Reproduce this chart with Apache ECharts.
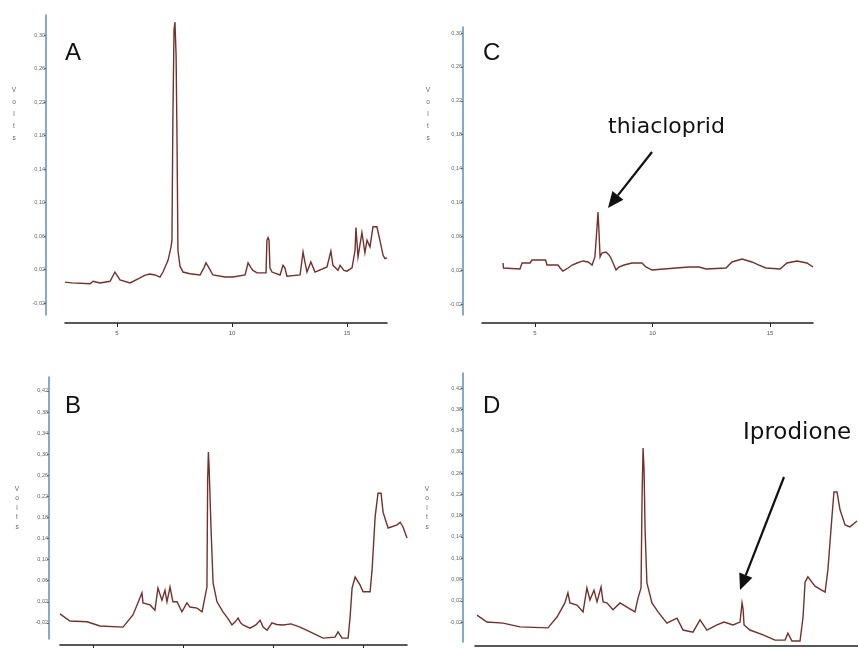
<!DOCTYPE html>
<html>
<head>
<meta charset="utf-8">
<script src="https://cdn.jsdelivr.net/npm/echarts@6.0.0/dist/echarts.min.js"></script>
<style>html,body{margin:0;padding:0;background:#fff}#c{width:858px;height:648px}</style>
</head>
<body>
<div id="c"></div>
<script>
// ---- Data (retention time in min, detector signal in volts) ----
const timeA = [2.74,3.04,3.83,3.96,4.26,4.70,4.91,5.13,5.57,6.00,6.20,6.43,6.65,6.87,7.00,7.22,7.35,7.39,7.43,7.48,7.52,7.57,7.61,7.65,7.74,7.87,8.17,8.61,8.78,8.87,9.00,9.17,9.70,10.04,10.57,10.70,10.83,10.91,11.09,11.48,11.52,11.57,11.61,11.65,11.74,12.09,12.22,12.30,12.39,12.96,13.09,13.17,13.26,13.43,13.61,14.13,14.30,14.39,14.61,14.70,14.87,15.00,15.22,15.35,15.39,15.48,15.65,15.78,15.87,16.00,16.13,16.30,16.43,16.57,16.65,16.74];
const voltA = [0.005,0.004,0.003,0.006,0.004,0.006,0.017,0.0075,0.004,0.010,0.013,0.0146,0.0135,0.011,0.017,0.031,0.047,0.055,0.199,0.306,0.3155,0.276,0.175,0.043,0.024,0.017,0.015,0.0135,0.022,0.028,0.022,0.0135,0.011,0.011,0.0135,0.028,0.022,0.019,0.016,0.016,0.055,0.058,0.055,0.022,0.017,0.0135,0.025,0.022,0.012,0.0135,0.041,0.029,0.017,0.029,0.017,0.023,0.042,0.025,0.019,0.025,0.019,0.018,0.022,0.043,0.070,0.035,0.064,0.040,0.055,0.047,0.071,0.071,0.055,0.037,0.033,0.034];

const timeC = [3.64,3.66,4.36,4.45,4.79,4.87,5.45,5.51,5.98,6.07,6.19,6.41,6.58,6.79,7.04,7.26,7.43,7.55,7.64,7.68,7.72,7.77,7.85,8.02,8.15,8.23,8.36,8.45,8.57,8.79,9.13,9.55,9.72,9.98,11.00,11.55,11.98,12.28,13.13,13.38,13.81,14.23,14.53,14.83,15.43,15.72,16.15,16.57,16.83];
const voltC = [0.0285,0.0226,0.0214,0.0285,0.0285,0.032,0.032,0.0261,0.0261,0.0226,0.019,0.0226,0.0261,0.0285,0.0309,0.0297,0.0261,0.0356,0.071,0.0887,0.0675,0.0356,0.0403,0.0415,0.0380,0.0344,0.0261,0.0202,0.0238,0.0261,0.0285,0.0285,0.0238,0.0202,0.0226,0.0238,0.0238,0.0214,0.0226,0.0297,0.0332,0.0297,0.0261,0.0226,0.0214,0.0285,0.0309,0.0285,0.0238];

const timeB = [3.17,3.72,4.67,5.39,6.67,7.22,7.50,7.72,7.78,8.17,8.44,8.61,8.83,9.00,9.11,9.28,9.44,9.67,9.94,10.22,10.39,10.78,11.06,11.22,11.33,11.37,11.41,11.45,11.56,11.67,11.89,12.22,12.50,12.72,12.90,13.06,13.20,13.33,13.72,14.05,14.28,14.45,14.67,14.94,15.20,15.56,16.00,16.50,17.06,17.78,18.44,18.61,18.83,19.17,19.28,19.39,19.56,19.83,20.00,20.39,20.50,20.67,20.83,21.00,21.11,21.39,21.89,22.06,22.22,22.44];
const voltB = [-0.003,-0.0165,-0.018,-0.026,-0.028,-0.005,0.018,0.037,0.018,0.014,0.004,0.046,0.023,0.042,0.020,0.048,0.020,0.020,0.001,0.018,0.010,0.008,0.001,0.029,0.048,0.251,0.304,0.276,0.156,0.056,0.020,0.001,-0.012,-0.024,-0.018,-0.011,-0.020,-0.024,-0.030,-0.024,-0.015,-0.028,-0.034,-0.020,-0.023,-0.024,-0.022,-0.028,-0.037,-0.049,-0.047,-0.037,-0.049,-0.049,-0.009,0.046,0.067,0.052,0.039,0.039,0.080,0.181,0.226,0.226,0.190,0.160,0.166,0.171,0.162,0.141];

const timeD = [3.17,3.66,4.46,5.30,6.68,7.13,7.52,7.67,7.77,8.12,8.42,8.61,8.76,8.96,9.11,9.31,9.41,9.60,9.90,10.25,10.59,10.99,11.14,11.29,11.34,11.39,11.44,11.49,11.58,11.83,12.13,12.57,13.07,13.37,13.86,14.21,14.55,15.05,15.40,15.84,16.19,16.25,16.29,16.34,16.39,16.68,17.33,17.92,18.42,18.56,18.76,19.16,19.31,19.41,19.55,19.90,20.40,20.54,20.74,20.84,20.99,21.14,21.39,21.63,21.98];
const voltD = [-0.007,-0.020,-0.022,-0.029,-0.031,-0.0105,0.016,0.035,0.016,0.012,-0.001,0.044,0.0215,0.040,0.018,0.046,0.018,0.016,0.003,0.016,0.008,-0.001,0.025,0.044,0.215,0.307,0.266,0.153,0.0535,0.016,-0.001,-0.022,-0.0125,-0.035,-0.039,-0.016,-0.035,-0.0255,-0.020,-0.0255,-0.020,-0.020,0.016,0.005,-0.0255,-0.035,-0.044,-0.054,-0.054,-0.041,-0.0556,-0.0556,-0.0105,0.055,0.065,0.0475,0.0365,0.078,0.1775,0.2245,0.2245,0.191,0.1625,0.159,0.170];

const yTicksTop = [-0.02,0.02,0.06,0.10,0.14,0.18,0.22,0.26,0.30];
const yTicksBottom = [-0.02,0.02,0.06,0.10,0.14,0.18,0.22,0.26,0.30,0.34,0.38,0.42];
const xTicksTop = [5,10,15];
const xTicksB = [5,10,15,20];
const panelLetters = ['A','C','B','D'];
const yAxisName = 'Volts';
const labelThia = 'thiacloprid';
const labelIpro = 'Iprodione';

// ---- Chart ----
const zip = (t, v) => t.map((x, i) => [x, v[i]]);
const fmt = v => (Math.round(v * 100) / 100).toFixed(2).replace('.', ',');
const traceColor = '#74302a';
const blue = '#5a8ec4';

const grids = [
  {left: 65, top: 15, width: 322, height: 300},
  {left: 482, top: 27, width: 331, height: 288},
  {left: 60, top: 377, width: 347, height: 262},
  {left: 475, top: 373, width: 383, height: 269}
].map(g => Object.assign({containLabel: false, outerBoundsMode: 'none'}, g));

function yAx(idx, min, max, ticks, offset) {
  return {
    type: 'value', gridIndex: idx, min: min, max: max, offset: offset,
    splitLine: {show: false},
    axisLine: {show: true, onZero: false, lineStyle: {color: blue, width: 1.5}},
    axisTick: {show: true, length: 2, customValues: ticks, lineStyle: {color: '#666'}},
    axisLabel: {customValues: ticks, formatter: fmt, fontSize: 5.5, color: '#666', margin: 1, fontFamily: 'Liberation Sans'}
  };
}
function xAx(idx, min, max, ticks, offset, showLabels) {
  return {
    type: 'value', gridIndex: idx, min: min, max: max, offset: offset,
    splitLine: {show: false},
    axisLine: {show: true, onZero: false, lineStyle: {color: '#222', width: 1.6}},
    axisTick: {show: ticks.length > 0, length: 4, customValues: ticks, lineStyle: {color: '#222'}},
    axisLabel: {show: showLabels, customValues: ticks, fontSize: 6, color: '#555', margin: 7, fontFamily: 'Liberation Sans'}
  };
}

const yAxes = [
  yAx(0, -0.0343, 0.3239, yTicksTop, 19),
  yAx(1, -0.0329, 0.3071, yTicksTop, 19),
  yAx(2, -0.0506, 0.4465, yTicksBottom, 11),
  yAx(3, -0.0575, 0.4482, yTicksBottom, 12)
];
const xAxes = [
  xAx(0, 2.74, 16.74, xTicksTop, 8, true),
  xAx(1, 2.745, 16.83, xTicksTop, 8, true),
  xAx(2, 3.17, 22.44, xTicksB, 6, false),
  xAx(3, 3.07, 22.03, [], 4, false)
];

const traces = [zip(timeA, voltA), zip(timeC, voltC), zip(timeB, voltB), zip(timeD, voltD)];
const series = traces.map((d, i) => ({
  type: 'line', xAxisIndex: i, yAxisIndex: i, data: d,
  showSymbol: false, symbol: 'none', animation: false,
  lineStyle: {color: traceColor, width: 1.4, join: 'miter'}
}));

const letterPos = [[65, 41], [483, 41], [65, 394], [483, 394]];
const voltsPos = [[14, 84, 12], [428, 84, 12], [17, 484, 9.5], [427, 484, 9.5]];

const graphic = [];
panelLetters.forEach((L, i) => {
  graphic.push({type: 'text', left: letterPos[i][0], top: letterPos[i][1],
    style: {text: L, fontSize: 24, fontFamily: 'Liberation Sans', fill: '#111'}});
});
voltsPos.forEach(p => {
  graphic.push({type: 'text', x: p[0], y: p[1],
    style: {text: yAxisName.split('').join('\n'), fontSize: 6.5, lineHeight: p[2], fontFamily: 'Liberation Sans', fill: '#666', align: 'center'}});
});
graphic.push({type: 'text', x: 608, y: 138, style: {text: labelThia, fontSize: 22, fontFamily: 'DejaVu Sans', fill: '#111', verticalAlign: 'bottom'}});
graphic.push({type: 'text', x: 743, y: 445, style: {text: labelIpro, fontSize: 23, fontFamily: 'DejaVu Sans', fill: '#111', verticalAlign: 'bottom'}});

function arrow(x0, y0, x1, y1) {
  const dx = x1 - x0, dy = y1 - y0, len = Math.hypot(dx, dy);
  const ux = dx / len, uy = dy / len, hl = 16, hw = 7;
  const bx = x1 - hl * ux, by = y1 - hl * uy, nx = -uy, ny = ux;
  graphic.push({type: 'line', shape: {x1: x0, y1: y0, x2: bx, y2: by}, style: {stroke: '#111', lineWidth: 2.2}});
  graphic.push({type: 'polygon', shape: {points: [[x1, y1], [bx + hw * nx, by + hw * ny], [bx - hw * nx, by - hw * ny]]}, style: {fill: '#111'}});
}
arrow(652, 152, 608, 208);
arrow(784, 477, 740, 590);

const chart = echarts.init(document.getElementById('c'), null, {renderer: 'canvas'});
chart.setOption({
  backgroundColor: '#fff',
  animation: false,
  grid: grids,
  xAxis: xAxes,
  yAxis: yAxes,
  series: series,
  graphic: graphic
});
</script>
</body>
</html>
